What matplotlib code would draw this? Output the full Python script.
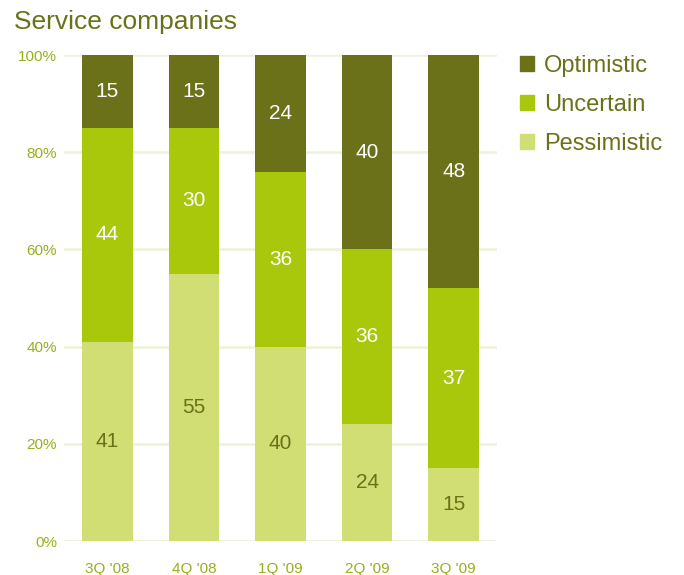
import matplotlib.pyplot as plt
from matplotlib.patches import Patch
from matplotlib.ticker import FuncFormatter

quarters = ["3Q '08", "4Q '08", "1Q '09", "2Q '09", "3Q '09"]
pessimistic = [41, 55, 40, 24, 15]
uncertain = [44, 30, 36, 36, 37]
optimistic = [15, 15, 24, 40, 48]

OLIVE = "#6b7118"
LIME = "#a9c80b"
PALE = "#d1de73"
TICK = "#9aae1c"
GRID = "#edf3d6"

plt.rcParams["font.family"] = ["Liberation Sans", "DejaVu Sans"]

fig = plt.figure(figsize=(6.84, 5.75), dpi=100)
ax = fig.add_axes([0.0936, 0.0591, 0.633, 0.8452])

x = range(len(quarters))
width = 0.585
series = [
    ("Pessimistic", pessimistic, PALE, OLIVE),
    ("Uncertain", uncertain, LIME, "white"),
    ("Optimistic", optimistic, OLIVE, "white"),
]
bottoms = [0] * len(quarters)
for name, vals, color, txt in series:
    ax.bar(x, vals, width, bottom=bottoms, color=color, zorder=2)
    for i, v in enumerate(vals):
        ax.text(i, bottoms[i] + v / 2, str(v), ha="center", va="center",
                color=txt, fontsize=15, zorder=3)
    bottoms = [b + v for b, v in zip(bottoms, vals)]

ax.set_xlim(-0.5, 4.5)
ax.set_ylim(0, 100)
ax.set_yticks(range(0, 101, 20))
ax.yaxis.set_major_formatter(FuncFormatter(lambda v, _: f"{v:.0f}%"))
ax.set_xticks(list(x))
ax.set_xticklabels(quarters)
ax.tick_params(length=0, colors=TICK, labelsize=11)
ax.tick_params(axis="y", pad=5)
ax.tick_params(axis="x", pad=15)
ax.grid(axis="y", color=GRID, linewidth=1.8, zorder=0)
ax.set_axisbelow(True)
for s in ax.spines.values():
    s.set_visible(False)

fig.text(0.02, 0.962, "Service companies", color=OLIVE, fontsize=19,
         ha="left", va="center")

handles = [Patch(color=c, label=n) for n, _, c, _ in reversed(series)]
fig.legend(handles=handles, loc="upper left", bbox_to_anchor=(0.729, 0.942),
           frameon=False, fontsize=17, labelcolor=OLIVE, handlelength=0.6,
           handleheight=0.6, handletextpad=0.42, labelspacing=0.72)

fig.savefig("out.png", dpi=100)
